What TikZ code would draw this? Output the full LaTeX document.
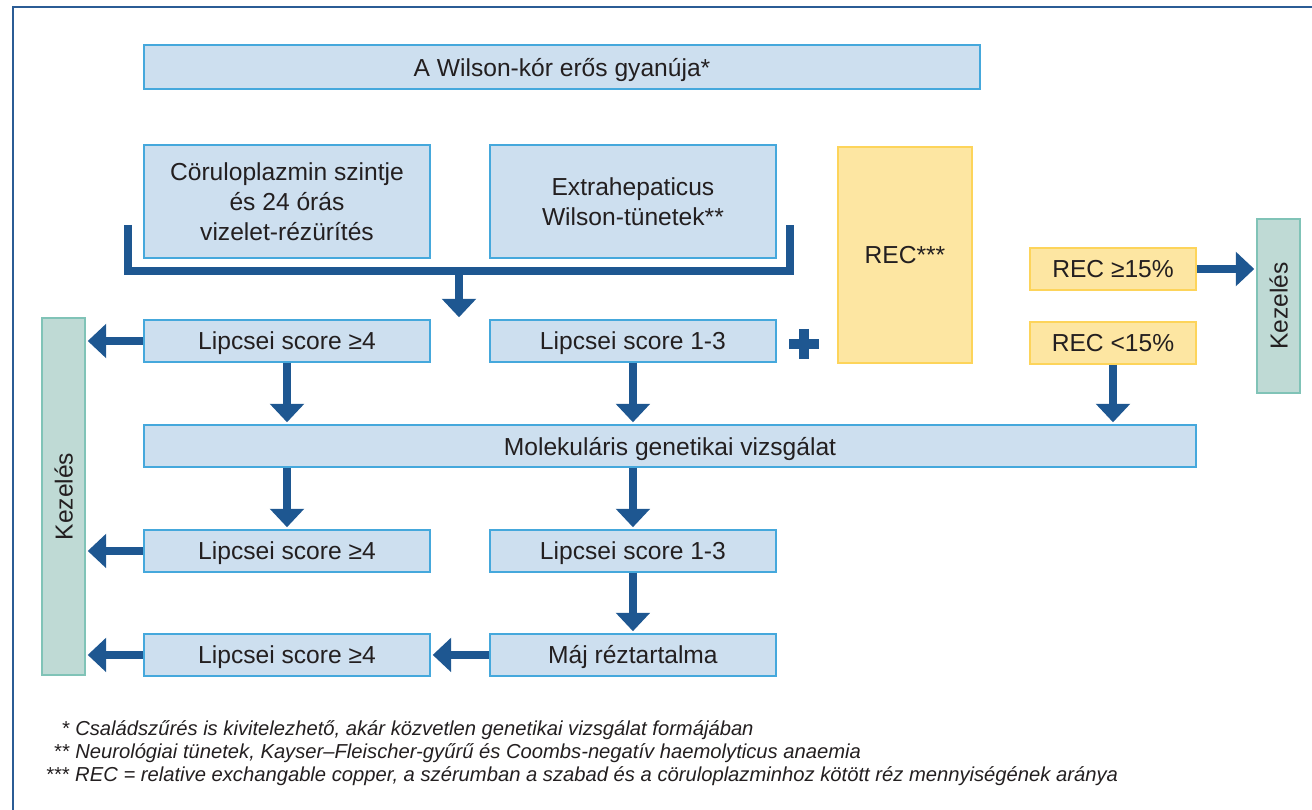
\documentclass[tikz,border=0pt]{standalone}
\usepackage{fontspec}
\setmainfont{Liberation Sans}
\usetikzlibrary{arrows.meta, positioning}
\definecolor{boxfill}{HTML}{CDDFEF}
\definecolor{boxline}{HTML}{45A8DC}
\definecolor{recfill}{HTML}{FDE6A2}
\definecolor{recline}{HTML}{FDD45A}
\definecolor{kezfill}{HTML}{BFDAD5}
\definecolor{kezline}{HTML}{80C3B7}
\definecolor{arrcol}{HTML}{1E5791}
\definecolor{framecol}{HTML}{2B5C95}
\definecolor{txt}{HTML}{231F20}

\begin{document}
\begin{tikzpicture}[x=0.02cm, y=-0.02cm, node distance=6.92cm,
    box/.style={draw=boxline, fill=boxfill, line width=1.1pt, minimum width=5.72cm,
                minimum height=0.84cm, inner sep=0pt, align=center, text=txt,
                text depth=0pt, font=\fontsize{14pt}{17pt}\selectfont},
    recbox/.style={box, draw=recline, fill=recfill},
    kez/.style={box, draw=kezline, fill=kezfill, rotate=90, minimum height=0.86cm},
    arr/.style={-{Triangle[width=19pt,length=10.5pt]}, line width=4.6pt, draw=arrcol,
                shorten >=1pt},
    semithick]
                \useasboundingbox (0,0) rectangle (1312,810);
                \draw[framecol, line width=1.2pt] (1312,7) -- (13,7) -- (13,810);

                \node[box, minimum width=16.72cm, minimum height=0.88cm] (title) at (562,67) {A Wilson-kór erős gyanúja*};
                \node[box, minimum height=2.26cm] (cer) at (287,201.5) {Cöruloplazmin szintje\\és 24 órás\\vizelet-rézürítés};
                \node[box, minimum height=2.26cm] (extra) [right of=cer] {Extrahepaticus\\Wilson-tünetek**};
                \node[recbox, minimum width=2.68cm, minimum height=4.32cm] (rec) at (905,255) {REC***};
                \node[recbox, minimum width=3.32cm] (rhi) at (1113,269) {REC ≥15\%};
                \node[recbox, minimum width=3.32cm] (rlo) at (1113,343) {REC <15\%};
                \node[kez, minimum width=3.48cm] (kr) at (1278.5,306) {Kezelés};
                \node[kez, minimum width=7.14cm] (kl) at (63.5,496.5) {Kezelés};

                \node[box] (a1) at (287,341) {Lipcsei score ≥4};
                \node[box] (b1) [right of=a1] {Lipcsei score 1-3};
                \node[box, minimum width=21.04cm] (mol) at (670,446) {Molekuláris genetikai vizsgálat};
                \node[box] (a2) [below of=a1, node distance=4.2cm] {Lipcsei score ≥4};
                \node[box] (b2) [right of=a2] {Lipcsei score 1-3};
                \node[box] (a3) [below of=a2, node distance=2.08cm] {Lipcsei score ≥4};
                \node[box] (maj) [right of=a3] {Máj réztartalma};

                % bracket over the two top boxes
                \coordinate (brl) at (128,225);
                \coordinate (brr) at (790,225);
                \coordinate (join) at (459,271);
                \draw[arrcol, line width=4.5pt, line join=miter] (brl) -- (brl |- join) -- (brr |- join) -- (brr);
                \draw[arr] ([yshift=2.2pt]join) -- (join |- a1.north);

                % plus sign
                \coordinate (plus) at (804,344);
                \draw[arrcol, line width=5.2pt] (plus) ++(-15,0) -- ++(30,0)
                                                (plus) ++(0,-15) -- ++(0,30);

                \draw[arr] (rhi.east) -- (rhi.east -| kr.north);
                \draw[arr] (rlo.south) -- (rlo.south |- mol.north);
                \draw[arr] (a1.west) -- (a1.west -| kl.south);
                \draw[arr] (a1.south) -- (a1.south |- mol.north);
                \draw[arr] (b1.south) -- (b1.south |- mol.north);
                \draw[arr] (a2.north |- mol.south) -- (a2.north);
                \draw[arr] (b2.north |- mol.south) -- (b2.north);
                \draw[arr] (a2.west) -- (a2.west -| kl.south);
                \draw[arr] (b2.south) -- (maj.north);
                \draw[arr] (maj.west) -- (a3.east);
                \draw[arr] (a3.west) -- (a3.west -| kl.south);

                \node[anchor=north west, inner sep=0pt, text=txt,
                      font=\fontsize{11.5pt}{13pt}\selectfont\itshape] (notes) at (45,719)
                     {\begin{tabular}{@{}r@{\hspace{3.5pt}}l@{}}
                      {*} & Családszűrés is kivitelezhető, akár közvetlen genetikai vizsgálat formájában\\
                      {**} & Neurológiai tünetek, Kayser–Fleischer-gyűrű és Coombs-negatív haemolyticus anaemia\\
                      {***} & REC = relative exchangable copper, a szérumban a szabad és a cöruloplazminhoz kötött réz mennyiségének aránya
                      \end{tabular}};
            \end{tikzpicture}
\end{document}
